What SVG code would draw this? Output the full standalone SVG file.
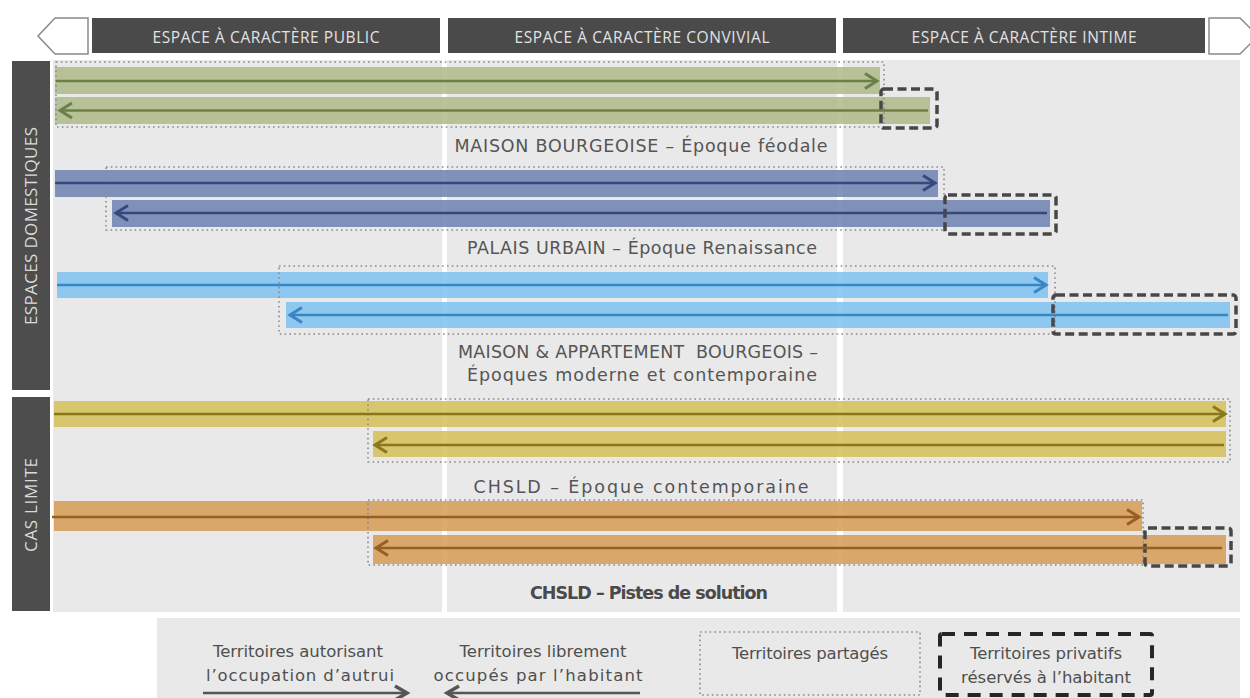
<svg xmlns="http://www.w3.org/2000/svg" width="1250" height="698" viewBox="0 0 1250 698">
<style>
.hdr{fill:#4a4a4a}
.htxt{font-family:"Open Sans","Liberation Sans",sans-serif;font-size:15.5px;fill:#e2e2e2;text-anchor:middle}
.side{fill:#4d4d4d}
.stxt{font-family:"Open Sans","Liberation Sans",sans-serif;font-size:17px;fill:#dadada;text-anchor:middle}
.panel{fill:#e9e9e9}
.lbl{font-family:"DejaVu Sans","Liberation Sans",sans-serif;font-size:17.5px;fill:#555;text-anchor:middle}
.bold{font-weight:bold;fill:#4a4a4a}
.leg{font-family:"DejaVu Sans","Liberation Sans",sans-serif;font-size:16.5px;fill:#4f4f4f;text-anchor:middle}
.shared{fill:none;stroke:#8a8a8a;stroke-width:1.6;stroke-dasharray:1.6 3.2}
.priv{fill:none;stroke:#474747;stroke-width:3.5;stroke-dasharray:9 4.5}
.legpriv{fill:none;stroke:#262626;stroke-width:4;stroke-dasharray:13 9}
.band{fill-opacity:0.85}
.green{fill:#adba89}
.slate{fill:#6d81b0}
.sky{fill:#7ec2f1}
.yellow{fill:#d3bf58}
.orange{fill:#d69a56}
.arr{fill:none;stroke-width:2.5}
</style>
<defs>
<marker id="ah-green" markerUnits="userSpaceOnUse" markerWidth="16" markerHeight="18" refX="13" refY="9" orient="auto" overflow="visible"><path d="M1,1.5 L13,9 L1,16.5" fill="none" stroke="#6d7f47" stroke-width="3"/></marker>
<marker id="ah-slate" markerUnits="userSpaceOnUse" markerWidth="16" markerHeight="18" refX="13" refY="9" orient="auto" overflow="visible"><path d="M1,1.5 L13,9 L1,16.5" fill="none" stroke="#34497c" stroke-width="3"/></marker>
<marker id="ah-sky" markerUnits="userSpaceOnUse" markerWidth="16" markerHeight="18" refX="13" refY="9" orient="auto" overflow="visible"><path d="M1,1.5 L13,9 L1,16.5" fill="none" stroke="#3a86c2" stroke-width="3"/></marker>
<marker id="ah-yellow" markerUnits="userSpaceOnUse" markerWidth="16" markerHeight="18" refX="13" refY="9" orient="auto" overflow="visible"><path d="M1,1.5 L13,9 L1,16.5" fill="none" stroke="#8a771c" stroke-width="3"/></marker>
<marker id="ah-orange" markerUnits="userSpaceOnUse" markerWidth="16" markerHeight="18" refX="13" refY="9" orient="auto" overflow="visible"><path d="M1,1.5 L13,9 L1,16.5" fill="none" stroke="#96601f" stroke-width="3"/></marker>
<marker id="ah-gray" markerUnits="userSpaceOnUse" markerWidth="16" markerHeight="18" refX="13" refY="9" orient="auto" overflow="visible"><path d="M1,2 L13,9 L1,16" fill="none" stroke="#555" stroke-width="3.5"/></marker>
</defs>
<rect width="1250" height="698" fill="#ffffff"/>

<g id="header">
<polygon points="38,36 55,18 88,18 88,54 55,54" fill="#fff" stroke="#8a8a8a" stroke-width="1.5"/>
<polygon points="1209,18 1240,18 1258,36 1240,54 1209,54" fill="#fff" stroke="#8a8a8a" stroke-width="1.5"/>
<rect class="hdr" x="92" y="18" width="348" height="35"/>
<rect class="hdr" x="448" y="18" width="388" height="35"/>
<rect class="hdr" x="843" y="18" width="362" height="35"/>
<text class="htxt" x="266" y="43" textLength="227">ESPACE À CARACTÈRE PUBLIC</text>
<text class="htxt" x="642" y="43" textLength="255">ESPACE À CARACTÈRE CONVIVIAL</text>
<text class="htxt" x="1024" y="43" textLength="225">ESPACE À CARACTÈRE INTIME</text>
</g>

<g id="side-labels">
<rect class="side" x="12" y="61" width="38" height="329"/>
<rect class="side" x="12" y="397" width="38" height="214"/>
<text class="stxt" transform="translate(37,226) rotate(-90)" x="0" y="0" textLength="198">ESPACES DOMESTIQUES</text>
<text class="stxt" transform="translate(37,505) rotate(-90)" x="0" y="0" textLength="94">CAS LIMITE</text>
</g>

<g id="panel">
<rect class="panel" x="53" y="60" width="389" height="552"/>
<rect class="panel" x="447" y="60" width="390" height="552"/>
<rect class="panel" x="843" y="60" width="397" height="552"/>
</g>

<g id="row-maison-bourgeoise">
<rect class="band green" x="55" y="67" width="825" height="27"/>
<rect class="band green" x="55" y="97" width="875" height="27"/>
<rect class="shared" x="56" y="62" width="828" height="65"/>
<rect class="priv" x="881" y="89" width="56" height="39" rx="3"/>
<text class="lbl" x="641" y="152" textLength="373">MAISON BOURGEOISE – Époque féodale</text>
</g>

<g id="row-palais-urbain">
<rect class="band slate" x="55" y="170" width="883" height="27"/>
<rect class="band slate" x="112" y="200" width="938" height="27"/>
<rect class="shared" x="106" y="167" width="838" height="63"/>
<rect class="priv" x="945" y="195" width="111" height="39" rx="3"/>
<text class="lbl" x="642" y="254" textLength="350">PALAIS URBAIN – Époque Renaissance</text>
</g>

<g id="row-maison-appartement">
<rect class="band sky" x="57" y="272" width="991" height="26"/>
<rect class="band sky" x="286" y="302" width="944" height="26"/>
<rect class="shared" x="279" y="266" width="776" height="68"/>
<rect class="priv" x="1053" y="295" width="183" height="39" rx="3"/>
<text class="lbl" x="638" y="358" textLength="360" xml:space="preserve">MAISON &amp; APPARTEMENT  BOURGEOIS –</text>
<text class="lbl" x="642" y="381" textLength="350">Époques moderne et contemporaine</text>
</g>

<g id="row-chsld">
<rect class="band yellow" x="54" y="401" width="1172" height="26"/>
<rect class="band yellow" x="373" y="431" width="853" height="26"/>
<rect class="shared" x="368" y="399" width="862" height="63"/>
<text class="lbl" x="641" y="493" textLength="335">CHSLD – Époque contemporaine</text>
</g>

<g id="row-chsld-solution">
<rect class="band orange" x="54" y="501" width="1088" height="30"/>
<rect class="band orange" x="373" y="535" width="853" height="29"/>
<rect class="shared" x="368" y="500" width="775" height="65"/>
<rect class="priv" x="1145" y="528" width="86" height="38" rx="3"/>
<text class="lbl bold" x="649" y="599" textLength="238">CHSLD – Pistes de solution</text>
</g>

<g id="legend">
<rect class="panel" x="157" y="618" width="1083" height="80"/>
<text class="leg" x="298" y="657" textLength="170">Territoires autorisant</text>
<text class="leg" x="300" y="681" textLength="188">l’occupation d’autrui</text>
<text class="leg" x="543" y="657" textLength="167">Territoires librement</text>
<text class="leg" x="538" y="681" textLength="209">occupés par l’habitant</text>
<rect class="shared" x="700" y="632" width="220" height="63"/>
<text class="leg" x="810" y="659" textLength="156">Territoires partagés</text>
<rect class="legpriv" x="940" y="634" width="212" height="61" rx="2"/>
<text class="leg" x="1046" y="659" textLength="152">Territoires privatifs</text>
<text class="leg" x="1046" y="683" textLength="170">réservés à l’habitant</text>
</g>

<g id="connectors">
<path class="arr" stroke="#6d7f47" d="M56,81 H877" marker-end="url(#ah-green)"/>
<path class="arr" stroke="#6d7f47" d="M928,110.5 H60" marker-end="url(#ah-green)"/>
<path class="arr" stroke="#34497c" d="M55,183 H935" marker-end="url(#ah-slate)"/>
<path class="arr" stroke="#34497c" d="M1047,213 H116" marker-end="url(#ah-slate)"/>
<path class="arr" stroke="#3a86c2" d="M57,285 H1046" marker-end="url(#ah-sky)"/>
<path class="arr" stroke="#3a86c2" d="M1228,315 H290" marker-end="url(#ah-sky)"/>
<path class="arr" stroke="#8a771c" d="M54,414 H1225" marker-end="url(#ah-yellow)"/>
<path class="arr" stroke="#8a771c" d="M1224,445 H375" marker-end="url(#ah-yellow)"/>
<path class="arr" stroke="#96601f" d="M52,517 H1139" marker-end="url(#ah-orange)"/>
<path class="arr" stroke="#96601f" d="M1222,548 H376" marker-end="url(#ah-orange)"/>
<path class="arr" stroke="#555" stroke-width="3.5" d="M203,693 H407" marker-end="url(#ah-gray)"/>
<path class="arr" stroke="#555" stroke-width="3.5" d="M640,693 H447" marker-end="url(#ah-gray)"/>
</g>
</svg>
